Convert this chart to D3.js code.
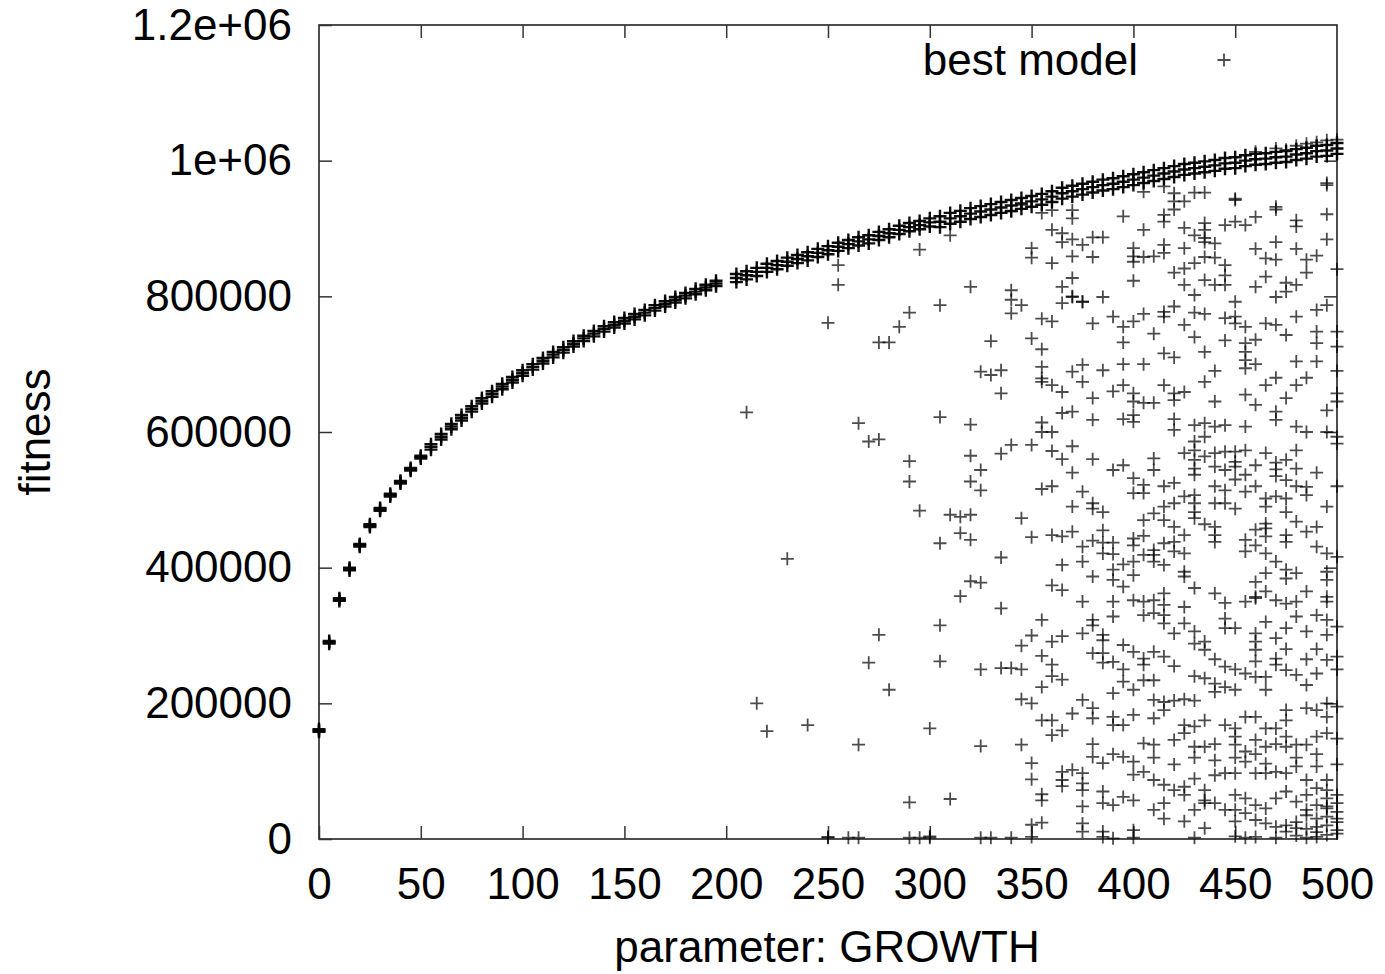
<!DOCTYPE html>
<html>
<head>
<meta charset="utf-8">
<script src="https://cdn.jsdelivr.net/npm/d3@7"></script>
<style>
  body { margin: 0; background: #fff; }
  svg { display: block; font-family: "Liberation Sans", Arial, Helvetica, sans-serif; }
</style>
</head>
<body>
<svg id="chart" width="1385" height="974"></svg>
<script>
// GROWTH values tried (columns of the scatter)
var growthSteps = [0,5,10,15,20,25,30,35,40,45,50,55,60,65,70,75,80,85,90,95,
  100,105,110,115,120,125,130,135,140,145,150,155,160,165,170,175,180,185,190,195,
  200,205,210,215,220,225,230,235,240,245,250,255,260,265,270,275,280,285,290,295,
  300,305,310,315,320,325,330,335,340,345,350,355,360,365,370,375,380,385,390,395,
  400,405,410,415,420,425,430,435,440,445,450,455,460,465,470,475,480,485,490,495,500];

// best fitness per GROWTH value (in thousands), null = no point
var bestFit = [162,292,355,400,435,464,488,509,528,547,565,582,597,612,625,638,650,660,671,681,
  691,700,709,718,725,734,742,749,756,762,768,774,780,787,793,799,805,811,817,823,
  null,833,837,842,848,852,857,861,865,870,874,879,883,887,890,895,899,904,908,911,
  915,918,923,926,930,933,936,939,942,945,948,951,955,960,963,966,969,972,974,977,
  980,983,986,989,992,995,997,999,1001,1004,1005,1008,1010,1011,1013,1014,1017,1019,1022,1023,1026];

// runs landing just under the best value (thousands)
var closeBest = [160,290,353,398,433,462,486,507,526,545,563,578,593,608,621,634,646,656,667,677,
  687,696,705,714,721,730,738,745,752,758,764,770,776,783,789,795,801,807,813,819,
  null,827,831,836,842,846,851,855,859,864,868,873,877,881,884,889,893,898,902,905,
  909,910,915,918,922,925,928,931,934,937,940,943,947,952,955,958,961,964,966,969,
  972,975,978,981,984,987,989,991,993,996,997,1000,1002,1003,1005,1006,1009,1011,1014,1015,1018];

// lower edge of the top band (thousands)
var nearBest = [158,288,351,396,431,460,484,505,524,543,561,574,589,604,617,630,642,652,663,673,
  683,692,701,710,717,726,734,741,748,754,760,766,772,779,785,791,797,803,809,815,
  null,821,825,830,836,840,845,849,853,858,862,867,871,875,878,883,887,892,896,899,
  903,902,907,910,914,917,920,923,926,929,932,935,939,944,947,950,953,956,958,961,
  964,967,970,973,976,979,981,983,985,988,989,992,994,995,997,998,1001,1003,1006,1007,1010];

// other models evaluated: [GROWTH, fitness in thousands]
var otherModels = [
  [210,629],[215,200],[220,159],[230,413],[240,168],
  [250,761],[255,846],[255,817],[265,613],[270,586],[275,589],[265,139],
  [275,732],[280,732],[285,755],[290,776],[295,869],[305,787],[310,890],[320,814],
  [340,809],[340,795],[345,787],[340,775],[340,925],[345,935],
  [330,734],[325,689],[330,684],[335,691],
  [355,767],[360,763],[350,738],[355,722],[355,696],[355,679],
  [350,871],[350,857],[360,849],[355,923],[360,927],[360,898],[365,893],[365,880],
  [365,814],[365,790],[370,799],[375,792],
  // upper right block
  [370,927],[370,915],[395,918],[405,954],[415,962],[420,952],[420,940],[420,928],
  [425,940],[430,953],[435,953],[450,942],[470,928],[495,964],[495,921],[495,884],
  [460,917],[455,905],[450,910],[445,905],[480,912],[480,903],[415,920],[415,910],
  [405,898],[425,901],[435,908],[435,898],[435,886],[435,880],[430,890],[440,878],
  [370,884],[375,876],[380,887],[385,887],[370,859],[380,858],
  [400,871],[400,859],[400,851],[405,858],[410,859],[415,876],[415,864],[425,871],
  [425,841],[420,835],[430,849],[435,858],[440,857],[445,846],[445,831],[445,817],
  [435,824],[440,817],[425,817],[430,802],[400,823],
  [370,827],[370,800],[375,792],[385,799],[465,856],[470,854],[485,854],
  [465,829],[460,814],[475,807],[480,817],[470,799],[450,792],[495,787],
  [420,785],[415,777],[415,770],[405,774],[400,763],[395,755],[395,732],
  [430,776],[435,774],[425,758],[445,768],[450,770],[450,760],[455,755],
  [455,731],[460,736],[455,718],[455,706],[455,694],[470,758],[475,743],
  [490,748],[490,731],[500,748],[500,726],[415,716],[435,718],[480,704],[490,704],
  [375,699],[385,691],[370,689],[450,944],[470,932],[495,967],
  [470,1018],[480,1022],[485,1025],[490,1027],[495,1030],[500,1031],[475,1016],[460,1013],
  [470,880],[480,870],[490,860],[460,870],[485,835],[500,840],[475,820],
  [395,700],[405,700],[420,710],[440,690],[460,700],[470,680],[500,690],[485,680],
  [380,760],[390,770],[410,745],[430,740],[445,735],[465,760],[480,770],[490,780],
  // middle left block
  [290,557],[290,527],[295,484],[305,622],
  [320,611],[320,565],[325,544],[320,527],[325,514],[310,478],[315,475],[320,478],
  [315,451],[320,441],[305,436],[335,657],[335,568],[340,581],[350,581],[360,572],
  [355,614],[365,659],[365,628],[355,674],[360,669],[355,516],[345,473],
  [350,445],[360,448],[365,446],[335,415],[365,404],[320,380],[325,378],[315,358],
  [360,374],[365,367],[335,340],
  [360,520],[370,540],[380,560],[360,600],[370,630],[380,650],[390,660],[355,600],[365,560],
  // middle right block
  [375,674],[395,669],[400,657],[400,645],[405,643],[410,643],[415,669],[420,657],
  [420,647],[425,659],[435,674],[440,645],[455,655],[460,640],[465,669],[470,630],
  [470,618],[475,650],[480,669],[380,618],[395,619],[400,625],[400,615],[420,619],
  [420,603],[430,610],[435,613],[440,608],[445,610],[455,608],[435,593],[480,608],
  [485,600],[495,632],[495,600],[500,657],[500,645],[500,593],[500,583],[370,579],
  [430,586],[430,573],[425,569],[430,559],[430,546],[430,537],[435,564],[440,569],
  [445,571],[450,571],[455,573],[440,549],[445,544],[450,556],[450,549],
  [465,569],[470,555],[470,545],[470,535],[475,559],[480,546],[480,573],[460,551],
  [455,537],[475,529],[410,561],[410,544],[390,544],[395,551],[400,532],[405,522],
  [400,510],[405,510],[415,520],[420,525],[375,512],[370,490],[380,495],[380,487],
  [385,482],[415,490],[415,470],[420,460],[425,505],[430,507],[430,495],[430,482],
  [430,473],[440,495],[445,514],[445,495],[450,487],[455,512],[465,502],[465,490],
  [475,502],[475,482],[485,519],[485,507],[495,490],[435,464],[440,460],[440,448],
  [440,438],[460,456],[465,465],[465,458],[465,446],[480,468],[485,453],[490,460],
  [475,448],[475,438],[370,453],[385,437],[390,437],[385,421],[375,431],[375,409],
  [400,443],[405,447],[400,433],[400,409],[405,419],[410,426],[410,419],[410,409],
  [415,436],[415,404],[420,438],[420,424],[425,448],[425,421],[455,441],[455,424],
  [460,433],[465,421],[470,409],[475,397],[475,384],[480,392],[490,431],[495,421],
  [500,416],[380,387],[390,397],[390,382],[395,372],[400,389],[425,394],[425,387],
  [430,370],[460,379],[465,392],[465,365],[460,357],[485,365],[495,394],[495,382],
  [495,357],[375,350],[390,350],[400,352],[405,350],[410,352],[415,362],[415,345],
  [425,342],[440,362],[445,348],[455,350],[460,355],[470,352],[475,347],[480,350],
  [495,350],
  [380,440],[385,455],[390,420],[395,405],[405,470],[410,480],[420,495],[440,520],
  [450,530],[460,520],[470,505],[480,520],[490,540],[500,520],
  // lower left block
  [275,301],[270,260],[280,220],[305,315],[305,262],[300,163],[290,54],[310,59],
  [325,250],[335,252],[340,252],[325,137],[345,285],[345,206],[345,139],[355,323],
  [360,291],[365,299],[360,257],[355,224],[365,235],[355,175],[360,175],[360,153],
  [365,160],[350,112],[350,88],[355,66],[355,57],[365,99],[365,87],[365,78],
  [350,21],[355,24],[350,300],[355,270],[360,240],[345,250],[350,200],
  [250,2],[250,3],[260,2],[265,2],[290,2],[295,2],[300,2],[300,4],[325,2],[330,2],
  [340,2],[350,3],
  // lower right block
  [375,303],[380,323],[380,315],[385,301],[385,293],[390,328],[405,330],[410,333],
  [415,330],[415,318],[420,303],[425,318],[430,306],[430,288],[435,291],[435,279],
  [445,325],[445,311],[450,311],[460,303],[460,291],[460,279],[465,320],[470,296],
  [475,311],[480,328],[485,306],[490,330],[495,323],[495,301],[500,313],
  [380,274],[385,274],[390,261],[395,286],[400,276],[405,266],[405,257],[410,276],
  [415,269],[405,234],[410,234],[445,254],[435,237],[440,229],[440,217],[445,224],
  [450,220],[455,244],[460,239],[465,239],[465,220],[470,266],[470,257],[475,249],
  [480,242],[485,227],[490,244],[495,264],[500,269],[395,232],[400,220],[390,215],
  [375,205],[380,193],[370,185],[380,178],[410,205],[415,202],[420,204],[425,206],
  [430,204],[415,190],[410,178],[390,180],[390,168],[395,168],[400,183],[425,168],
  [430,166],[435,175],[445,168],[450,163],[455,180],[460,180],[465,163],[470,163],
  [475,190],[475,175],[485,193],[490,190],[495,200],[495,180],[500,195],
  [385,260],[395,250],[420,255],[430,240],[440,265],[450,250],[460,262],[475,280],
  [485,265],[490,280],[500,250],
  [405,141],[410,139],[420,146],[425,156],[430,136],[435,136],[450,151],[450,139],
  [460,146],[465,136],[475,151],[475,136],[480,139],[485,139],[490,151],[495,156],
  [500,148],[380,121],[385,112],[395,121],[400,114],[405,99],[370,102],[375,97],
  [380,140],[390,125],[400,95],[410,120],[420,110],[430,120],[440,140],[450,120],
  [460,125],[470,140],[480,120],[490,125],[500,110],
  [375,82],[375,72],[410,87],[415,80],[420,72],[425,77],[425,65],[430,89],[435,72],
  [435,57],[440,116],[440,94],[445,97],[450,97],[455,129],[455,114],[460,97],
  [465,111],[465,97],[470,99],[475,97],[480,107],[485,87],[490,107],[490,75],
  [495,87],[495,72],[385,70],[385,53],[390,50],[395,62],[400,57],[375,48],[375,23],
  [375,11],[385,11],[390,1],[400,13],[410,43],[415,53],[415,30],[425,26],[430,43],
  [435,53],[435,16],[440,53],[445,43],[450,65],[450,43],[450,26],[455,38],[460,28],
  [465,45],[465,23],[470,18],[475,11],[480,16],[485,43],[490,18],[495,48],[495,33],
  [500,53],[500,30],[500,13],
  [470,60],[475,70],[480,55],[485,65],[490,50],[495,60],[500,65],[460,50],[455,60],
  [385,3],[400,2],[430,2],[450,4],[455,2],[460,3],[470,2],[480,5],[485,2],[490,3],
  [495,6],[500,8],[475,20],[480,25],[485,15],[490,30],[495,20],[500,25],[495,45],
  [500,40],[490,10],[485,35]
];

var xTicks = [0,50,100,150,200,250,300,350,400,450,500];
var yTicks = [0,200000,400000,600000,800000,1000000,1200000];
var yTickLabels = ["0","200000","400000","600000","800000","1e+06","1.2e+06"];

var svg = d3.select("#chart");
var margin = { top: 25, right: 48, bottom: 135, left: 319 };
var width = 1385, height = 974;

var xScale = d3.scaleLinear().domain([0, 500]).range([margin.left, width - margin.right]);
var yScale = d3.scaleLinear().domain([0, 1200000]).range([height - margin.bottom, margin.top]);

var tickLen = 13;
var fontSize = 44;
var plus = "M-6.5,0H6.5M0,-6.5V6.5";

// frame
svg.append("rect")
  .attr("x", xScale(0)).attr("y", yScale(1200000))
  .attr("width", xScale(500) - xScale(0))
  .attr("height", yScale(0) - yScale(1200000))
  .attr("fill", "none").attr("stroke", "#222").attr("stroke-width", 1.6);

// axes with inward ticks (gnuplot style)
var xAxisBottom = d3.axisBottom(xScale).tickValues(xTicks).tickSizeInner(-tickLen).tickSizeOuter(0).tickPadding(29);
var xAxisTop = d3.axisTop(xScale).tickValues(xTicks.slice(1, -1)).tickSizeInner(-tickLen).tickSizeOuter(0).tickFormat("");
var yAxisLeft = d3.axisLeft(yScale).tickValues(yTicks).tickSizeInner(-tickLen).tickSizeOuter(0).tickPadding(27)
  .tickFormat(function (d, i) { return yTickLabels[i]; });
var yAxisRight = d3.axisRight(yScale).tickValues(yTicks.slice(1, -1)).tickSizeInner(-tickLen).tickSizeOuter(0).tickFormat("");

function styleAxis(g) {
  g.select(".domain").remove();
  g.selectAll(".tick line").attr("stroke", "#333").attr("stroke-width", 1.5);
  g.selectAll(".tick text").attr("fill", "#000").attr("font-size", fontSize)
    .attr("font-family", "Liberation Sans, Arial, sans-serif");
}

svg.append("g").attr("transform", "translate(0," + yScale(0) + ")").call(xAxisBottom).call(styleAxis);
svg.append("g").attr("transform", "translate(0," + yScale(1200000) + ")").call(xAxisTop).call(styleAxis);
svg.append("g").attr("transform", "translate(" + xScale(0) + ",0)").call(yAxisLeft).call(styleAxis);
svg.append("g").attr("transform", "translate(" + xScale(500) + ",0)").call(yAxisRight).call(styleAxis);

// axis titles
svg.append("text")
  .attr("x", (xScale(0) + xScale(500)) / 2 - 1)
  .attr("y", 962)
  .attr("text-anchor", "middle")
  .attr("font-size", fontSize)
  .text("parameter: GROWTH");

svg.append("text")
  .attr("transform", "translate(50," + 432 + ") rotate(-90)")
  .attr("text-anchor", "middle")
  .attr("font-size", fontSize)
  .text("fitness");

// top band: many repeated runs end here, so it prints solid black
var bandPoints = [];
growthSteps.forEach(function (g, i) {
  [bestFit, closeBest, nearBest].forEach(function (arr) {
    if (arr[i] !== null) bandPoints.push([g, arr[i]]);
  });
});

var plot = svg.append("g");

plot.selectAll("path.other")
  .data(otherModels)
  .join("path")
  .attr("class", "other")
  .attr("d", plus)
  .attr("transform", function (d) {
    return "translate(" + xScale(d[0]) + "," + yScale(d[1] * 1000) + ")";
  })
  .attr("fill", "none")
  .attr("stroke", "#000")
  .attr("stroke-opacity", 0.7)
  .attr("stroke-width", 1.8);

plot.selectAll("path.band")
  .data(bandPoints)
  .join("path")
  .attr("class", "band")
  .attr("d", plus)
  .attr("transform", function (d) {
    return "translate(" + xScale(d[0]) + "," + yScale(d[1] * 1000) + ")";
  })
  .attr("fill", "none")
  .attr("stroke", "#000")
  .attr("stroke-opacity", 0.95)
  .attr("stroke-width", 2.4);

// legend
svg.append("text")
  .attr("x", 1138).attr("y", 75)
  .attr("text-anchor", "end")
  .attr("font-size", fontSize)
  .text("best model");
svg.append("path")
  .attr("d", plus)
  .attr("transform", "translate(1224,60)")
  .attr("fill", "none").attr("stroke", "#000")
  .attr("stroke-opacity", 0.7).attr("stroke-width", 1.8);
</script>
</body>
</html>
